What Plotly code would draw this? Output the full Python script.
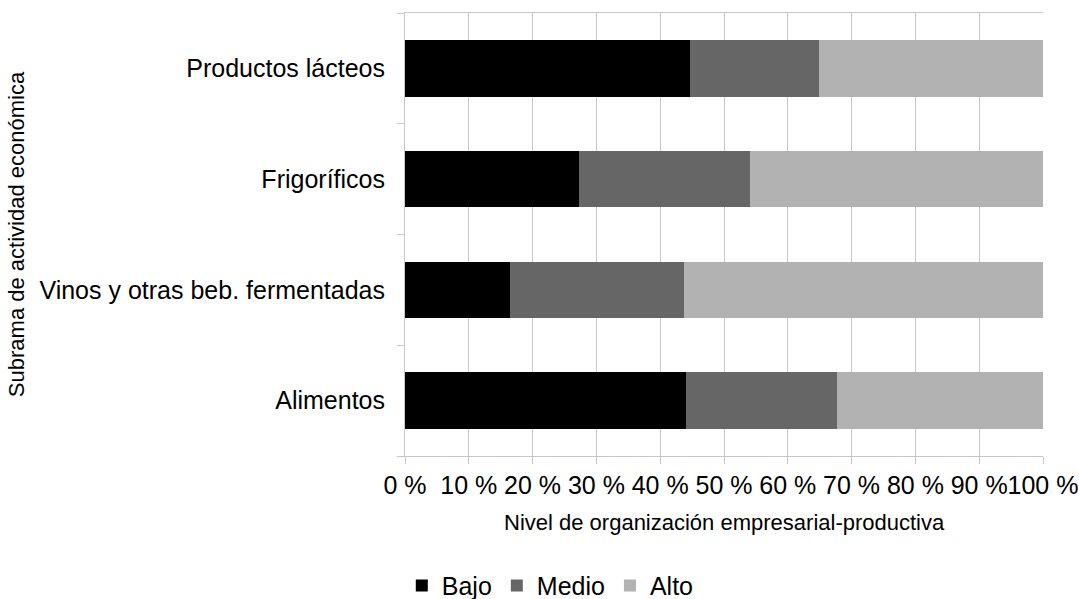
import plotly.graph_objects as go

categories = ["Alimentos", "Vinos y otras beb. fermentadas", "Frigoríficos", "Productos lácteos"]
bajo = [44.1, 16.4, 27.2, 44.6]
medio = [23.6, 27.4, 26.9, 20.3]
alto = [32.3, 56.2, 45.9, 35.1]
series_names = ["Bajo", "Medio", "Alto"]
colors = ["#000000", "#666666", "#b2b2b2"]
x_ticks = [0, 10, 20, 30, 40, 50, 60, 70, 80, 90, 100]
x_title = "Nivel de organización empresarial-productiva"
y_title = "Subrama de actividad económica"

fig = go.Figure()
for name, vals, col in zip(series_names, [bajo, medio, alto], colors):
    fig.add_trace(go.Bar(y=categories, x=vals, name=name, orientation="h",
                         marker=dict(color=col, line=dict(width=0))))

grid = "#c8c8c8"
fig.update_layout(
    barmode="stack",
    bargap=0.49,
    width=1079, height=599,
    margin=dict(l=405, r=36, t=13, b=143, autoexpand=False),
    paper_bgcolor="white", plot_bgcolor="white",
    font=dict(family="Liberation Sans, Arial, sans-serif", color="#000000", size=25),
    legend=dict(orientation="h", x=0.51, xanchor="center", xref="container",
                y=0.022, yanchor="middle", yref="container", font=dict(size=25),
                traceorder="normal", itemwidth=30, tracegroupgap=0),
    showlegend=True,
)
fig.add_annotation(text=x_title, xref="paper", yref="paper", x=0.5, y=-0.151,
                   xanchor="center", yanchor="middle", showarrow=False,
                   font=dict(size=22))
fig.update_xaxes(
    range=[0, 100], tickvals=x_ticks, ticktext=[f"{v} %" for v in x_ticks],
    tickangle=0,
    showgrid=True, gridcolor=grid, gridwidth=1,
    showline=True, linecolor=grid, linewidth=1, mirror=True,
    ticks="outside", ticklen=7, tickcolor=grid,
    tickfont=dict(size=25),
    zeroline=False, automargin=False,
)
fig.update_yaxes(
    showgrid=False, showline=True, linecolor=grid, linewidth=1,
    ticks="outside", ticklen=7, tickcolor=grid, tickson="boundaries",
    tickfont=dict(size=25), ticklabelstandoff=14,
    title=dict(text=y_title, font=dict(size=22), standoff=8),
    automargin=False,
)
fig.write_html("out.html", config={"displayModeBar": False},
               post_script="document.body.style.margin='0';")
